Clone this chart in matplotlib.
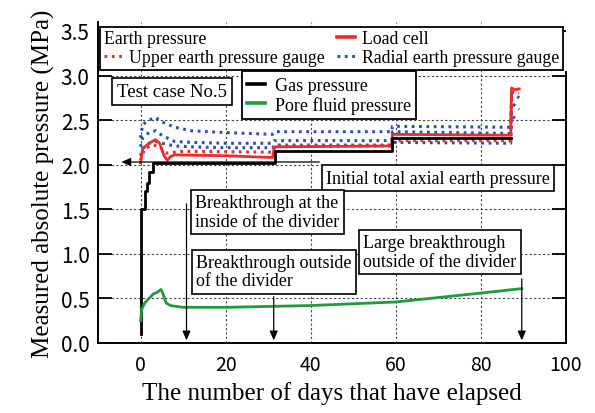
import matplotlib
matplotlib.use("Agg")
import matplotlib.pyplot as plt
from matplotlib.lines import Line2D

# ---- data (days elapsed, pressure in MPa) ----
gas_days = [0, 0, 1.0, 1.0, 1.4, 1.4, 2.1, 2.1, 2.9, 2.9, 31.5, 31.5, 59.0, 59.0, 87.0]
gas_p = [0.10, 1.50, 1.50, 1.70, 1.70, 1.80, 1.80, 1.92, 1.92, 2.02, 2.02, 2.15, 2.15, 2.30, 2.30]

pore_days = [0, 0.3, 1, 2, 3, 4, 4.8, 5.3, 6, 7, 10, 20, 30, 40, 50, 60, 70, 80, 89.6]
pore_p = [0.25, 0.38, 0.45, 0.50, 0.55, 0.57, 0.60, 0.55, 0.45, 0.42, 0.40, 0.40, 0.41,
          0.42, 0.44, 0.46, 0.51, 0.56, 0.61]

load_days = [0, 0.5, 2, 3.5, 4.5, 5.5, 6.3, 7, 8, 20, 31, 31.5, 59, 59.2, 87, 87.2, 88, 89]
load_p = [2.02, 2.18, 2.24, 2.28, 2.24, 2.10, 2.05, 2.09, 2.11, 2.10, 2.08, 2.20, 2.21,
          2.34, 2.33, 2.86, 2.84, 2.85]

upper_days = [0, 1, 3, 4.5, 6, 10, 31, 31.5, 59, 59.2, 87, 87.2, 88, 89]
upper_p = [2.05, 2.18, 2.22, 2.20, 2.13, 2.15, 2.14, 2.21, 2.21, 2.27, 2.27, 2.82, 2.80, 2.80]

radial_days = [0, 0.5, 2, 3.5, 5, 8, 12, 20, 31, 31.5, 59, 59.2, 87, 87.2, 88, 89]
radial_a = [2.30, 2.45, 2.50, 2.53, 2.48, 2.42, 2.38, 2.36, 2.34, 2.37, 2.37, 2.43, 2.42,
            2.80, 2.78, 2.75]
radial_b = [2.20, 2.30, 2.36, 2.38, 2.33, 2.26, 2.25, 2.24, 2.24, 2.27, 2.27, 2.37, 2.35,
            2.70, 2.66, 2.62]
radial_c = [2.10, 2.18, 2.24, 2.26, 2.24, 2.21, 2.20, 2.19, 2.19, 2.22, 2.22, 2.25, 2.24,
            2.55, 2.52, 2.50]

x_ticks = [0, 20, 40, 60, 80, 100]
y_ticks = [0.0, 0.5, 1.0, 1.5, 2.0, 2.5, 3.0, 3.5]

serif = "Liberation Serif"
tickfont = ["Noto Sans CJK JP", "DejaVu Sans"]

RED = "#ee2a2a"
BLUE = "#2a4fb0"
GREEN = "#1f9a3c"

fig = plt.figure(figsize=(5.95, 4.14), dpi=100)
ax = fig.add_axes([0.1647, 0.1691, 0.7866, 0.7753])

dot = (0, (0.9, 1.5))
ax.plot(radial_days, radial_a, color=BLUE, lw=2.2, ls=dot)
ax.plot(radial_days, radial_b, color=BLUE, lw=2.2, ls=dot)
ax.plot(radial_days, radial_c, color=BLUE, lw=2.2, ls=dot)
ax.plot(upper_days, upper_p, color=RED, lw=2.2, ls=dot)
ax.plot(load_days, load_p, color=RED, lw=2.0)
ax.plot(gas_days, gas_p, color="black", lw=2.0)
ax.plot(pore_days, pore_p, color=GREEN, lw=2.0)

ax.set_xlim(-10, 100)
ax.set_ylim(0, 3.6)
ax.set_xticks(x_ticks)
ax.set_yticks(y_ticks)
ax.set_xticklabels([str(v) for v in x_ticks], family=tickfont, fontsize=14)
ax.set_yticklabels([f"{v:.1f}" for v in y_ticks], family=tickfont, fontsize=15)

ax.grid(True, color="#444444", lw=0.8, ls=(0, (2, 2)))
ax.set_axisbelow(True)

for s in ("left", "bottom", "right"):
    ax.spines[s].set_linewidth(1.4)
ax.spines["top"].set_visible(False)
ax.spines["right"].set_bounds(0, 3.04)
ax.tick_params(axis="y", direction="in", length=10, width=1.3, right=True, pad=6)
ax.tick_params(axis="x", direction="in", length=0, pad=8)

ax.set_xlabel("The number of days that have elapsed", family=serif, fontsize=18, labelpad=4)
ax.set_ylabel("Measured absolute pressure (MPa)", family=serif, fontsize=18, labelpad=4)

# earth pressure legend
h_blank = Line2D([], [], color="none")
h_upper = Line2D([], [], color=RED, lw=2.2, ls=dot)
h_load = Line2D([], [], color=RED, lw=2.6)
h_radial = Line2D([], [], color=BLUE, lw=2.2, ls=dot)
leg1 = ax.legend([h_blank, h_upper, h_load, h_radial],
                 ["Earth pressure", "Upper earth pressure gauge", "Load cell",
                  "Radial earth pressure gauge"],
                 ncol=2, mode="expand", loc="lower left",
                 bbox_to_anchor=(0.004, 0.85, 0.99, 0.15), borderaxespad=0,
                 prop={"family": serif, "size": 12.8}, handlelength=1.0, handletextpad=0.4,
                 labelspacing=0.1, borderpad=0.22, columnspacing=1.0,
                 fancybox=False, framealpha=1, edgecolor="black")
leg1.get_frame().set_linewidth(1.3)
first = leg1._legend_handle_box.get_children()[0].get_children()[0]
first._children = [first._children[1]]
ax.add_artist(leg1)

# gas / pore fluid legend
h_gas = Line2D([], [], color="black", lw=2.6)
h_pore = Line2D([], [], color=GREEN, lw=2.6)
leg2 = ax.legend([h_gas, h_pore], ["Gas pressure", "Pore fluid pressure"],
                 loc="upper left", bbox_to_anchor=(0.3077, 0.846), borderaxespad=0,
                 prop={"family": serif, "size": 13}, handlelength=1.0, handletextpad=0.5,
                 labelspacing=0.1, borderpad=0.3,
                 fancybox=False, framealpha=1, edgecolor="black")
leg2.get_frame().set_linewidth(1.3)

box = dict(boxstyle="square,pad=0.25", fc="white", ec="black", lw=1.2)
txt = dict(family=serif, fontsize=13, ha="center", va="center", multialignment="left",
           linespacing=1.1, bbox=box, zorder=6)

ax.text(7.4, 2.82, "Test case No.5", **{**txt, "fontsize": 13.5})
ax.text(69.9, 1.85, "Initial total axial earth pressure", **txt)
ax.text(29.8, 1.47, "Breakthrough at the\ninside of the divider", **txt)
ax.text(31.4, 0.80, "Breakthrough outside\nof the divider", **txt)
ax.text(70.4, 1.02, "Large breakthrough\noutside of the divider", **txt)

arrow = dict(arrowstyle="-|>,head_length=0.5,head_width=0.22", color="black", lw=0.9,
             mutation_scale=11, shrinkA=0, shrinkB=0)
ax.annotate("", xy=(-4.5, 2.03), xytext=(42, 2.03), arrowprops=arrow, zorder=7)
ax.annotate("", xy=(10.8, 0.03), xytext=(10.8, 1.56), arrowprops=arrow)
ax.annotate("", xy=(31.3, 0.03), xytext=(31.3, 0.52), arrowprops=arrow)
ax.annotate("", xy=(89.6, 0.03), xytext=(89.6, 0.72), arrowprops=arrow)

fig.savefig("out.png", dpi=100)
